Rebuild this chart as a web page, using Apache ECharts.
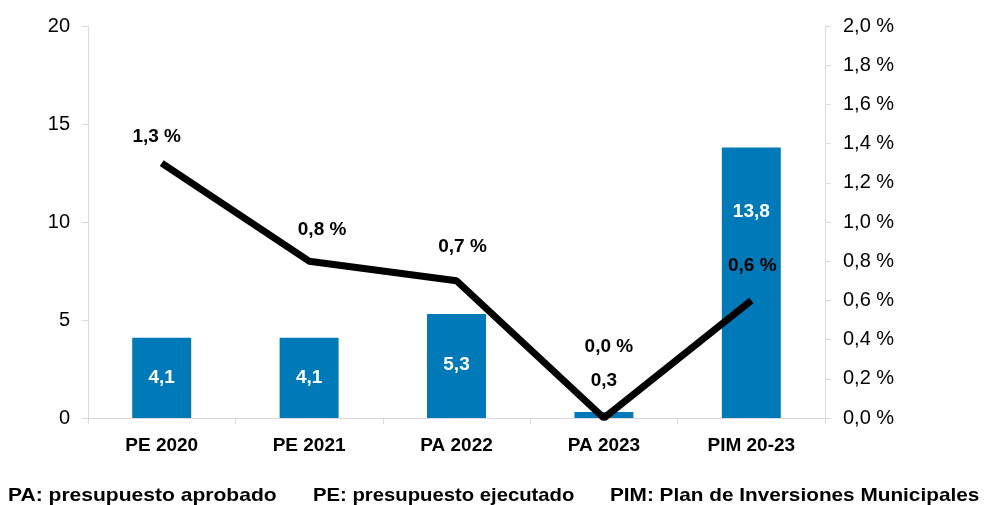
<!DOCTYPE html>
<html><head><meta charset="utf-8">
<script src="https://cdn.jsdelivr.net/npm/echarts@6/dist/echarts.min.js"></script>
<style>html,body{margin:0;padding:0;background:#fff}#c{width:984px;height:505px}</style>
</head><body><div id="c"></div>
<script>
const categories = ['PE 2020', 'PE 2021', 'PA 2022', 'PA 2023', 'PIM 20-23'];
const barValues = [4.1, 4.1, 5.3, 0.3, 13.8];
const lineValues = [1.3, 0.8, 0.7, 0.0, 0.6];
const footnotes = ['PA: presupuesto aprobado', 'PE: presupuesto ejecutado', 'PIM: Plan de Inversiones Municipales'];

// layout only (label nudges, footnote x positions and horizontal stretch)
const lineLabelOffsets = [[-5, -26], [13, -31], [6, -34], [5, -71], [1, -35]];
const barLabelOffsets = [[0, 0], [0, 0], [0, -1], [0, -34], [0, -71]];
const footnoteX = [8, 313, 610];
const footnoteScale = [1.108, 1.067, 1.093];

const fmt = v => v.toFixed(1).replace('.', ',');
const FONT = 'Liberation Sans';
const axisGray = '#d9d9d9';

// one invisible point series per line label, so each label can get its own nudge
const lineLabelSeries = lineValues.map((v, i) => ({
  type: 'scatter', yAxisIndex: 1, symbol: 'circle', symbolSize: 2, z: 5,
  itemStyle: {color: 'rgba(0,0,0,0)', opacity: 1},
  silent: true,
  data: categories.map((c, j) => j === i ? v : '-'),
  label: {show: true, position: 'inside', offset: lineLabelOffsets[i], color: '#000', opacity: 1,
    fontSize: 19, fontWeight: 'bold', fontFamily: FONT,
    formatter: p => fmt(p.value) + ' %'}
}));

const chart = echarts.init(document.getElementById('c'), null, {renderer: 'canvas'});
chart.setOption({
  animation: false,
  textStyle: {fontFamily: FONT},
  grid: {left: 88, right: 159, top: 26, bottom: 87},
  xAxis: {
    type: 'category', data: categories,
    axisLine: {lineStyle: {color: axisGray, width: 1}},
    axisTick: {show: true, alignWithLabel: false, length: 6, lineStyle: {color: axisGray}},
    axisLabel: {color: '#000', fontSize: 19, fontWeight: 'bold', margin: 18, fontFamily: FONT}
  },
  yAxis: [{
    type: 'value', min: 0, max: 20, interval: 5, position: 'left',
    axisLine: {show: true, lineStyle: {color: axisGray}},
    axisTick: {show: true, length: 6, lineStyle: {color: axisGray}},
    splitLine: {show: false},
    axisLabel: {color: '#000', fontSize: 20, margin: 18, fontFamily: FONT}
  }, {
    type: 'value', min: 0, max: 2, interval: 0.2, position: 'right',
    axisLine: {show: true, lineStyle: {color: axisGray}},
    axisTick: {show: true, length: 6, lineStyle: {color: axisGray}},
    splitLine: {show: false},
    axisLabel: {color: '#000', fontSize: 20, margin: 18, fontFamily: FONT,
      formatter: v => fmt(v) + ' %'}
  }],
  series: [{
    type: 'bar', yAxisIndex: 0, barWidth: '40%', z: 2,
    itemStyle: {color: '#0079b8'},
    data: barValues.map((v, i) => ({
      value: v,
      label: {offset: barLabelOffsets[i], color: v < 1 ? '#000' : '#fff'}
    })),
    label: {show: true, position: 'inside', fontSize: 19, fontWeight: 'bold', fontFamily: FONT,
      formatter: p => fmt(p.value)}
  }, {
    type: 'line', yAxisIndex: 1, symbol: 'none', z: 3,
    lineStyle: {color: '#000', width: 7},
    data: lineValues
  }].concat(lineLabelSeries),
  graphic: footnotes.map((t, i) => ({
    type: 'text', x: footnoteX[i], y: 486, scaleX: footnoteScale[i],
    style: {text: t, fill: '#000', font: 'bold 19px "Liberation Sans"'}
  }))
});
</script></body></html>
